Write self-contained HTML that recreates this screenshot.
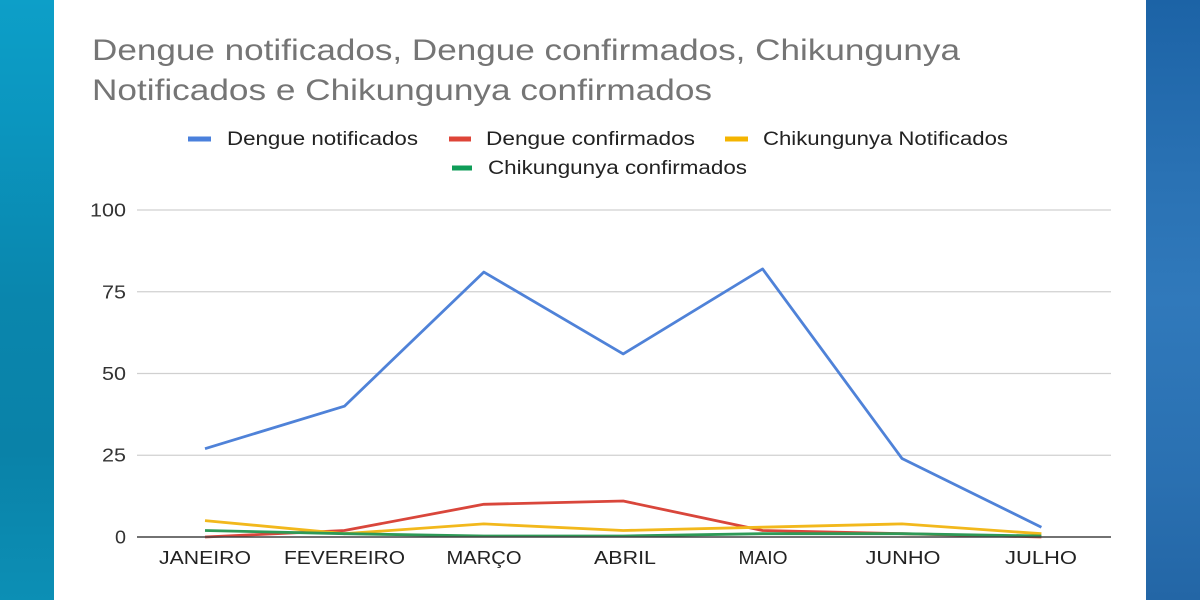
<!DOCTYPE html>
<html>
<head>
<meta charset="utf-8">
<style>
  html,body{margin:0;padding:0;width:1200px;height:600px;overflow:hidden;background:#fff;}
  svg{display:block;}
  text{font-family:"Liberation Sans", Arial, sans-serif;}
</style>
</head>
<body>
<svg width="1200" height="600" viewBox="0 0 1200 600" xmlns="http://www.w3.org/2000/svg">
  <defs>
    <linearGradient id="lg" x1="0" y1="0" x2="0" y2="1">
      <stop offset="0" stop-color="#0d9fc8"/>
      <stop offset="0.2" stop-color="#0b96bf"/>
      <stop offset="0.5" stop-color="#0a86ad"/>
      <stop offset="0.75" stop-color="#0a82a8"/>
      <stop offset="1" stop-color="#0c8fb5"/>
    </linearGradient>
    <linearGradient id="rg" x1="0" y1="0" x2="0" y2="1">
      <stop offset="0" stop-color="#1c63a6"/>
      <stop offset="0.3" stop-color="#2a72b4"/>
      <stop offset="0.5" stop-color="#3079bb"/>
      <stop offset="0.8" stop-color="#2a70b1"/>
      <stop offset="1" stop-color="#2366a6"/>
    </linearGradient>
  </defs>
  <rect x="0" y="0" width="1200" height="600" fill="#ffffff"/>
  <rect x="0" y="0" width="54" height="600" fill="url(#lg)"/>
  <rect x="1146" y="0" width="54" height="600" fill="url(#rg)"/>

  <!-- Title -->
  <text x="92" y="60" font-size="30" fill="#757575" textLength="868" lengthAdjust="spacingAndGlyphs">Dengue notificados, Dengue confirmados, Chikungunya</text>
  <text x="92" y="100" font-size="30" fill="#757575" textLength="620" lengthAdjust="spacingAndGlyphs">Notificados e Chikungunya confirmados</text>

  <!-- Legend -->
  <rect x="188" y="136.5" width="23" height="5" fill="#4a80dc"/>
  <text x="227" y="145" font-size="19" fill="#222" textLength="191" lengthAdjust="spacingAndGlyphs">Dengue notificados</text>
  <rect x="449" y="136.5" width="22" height="5" fill="#de4538"/>
  <text x="486" y="145" font-size="19" fill="#222" textLength="209" lengthAdjust="spacingAndGlyphs">Dengue confirmados</text>
  <rect x="725" y="136.5" width="23" height="5" fill="#f4b400"/>
  <text x="763" y="145" font-size="19" fill="#222" textLength="245" lengthAdjust="spacingAndGlyphs">Chikungunya Notificados</text>
  <rect x="452" y="165.5" width="20" height="5" fill="#0f9d58"/>
  <text x="488" y="174" font-size="19" fill="#222" textLength="259" lengthAdjust="spacingAndGlyphs">Chikungunya confirmados</text>

  <!-- Gridlines -->
  <g stroke="#d0d0d0" stroke-width="1.3">
    <line x1="137" y1="210" x2="1111" y2="210"/>
    <line x1="137" y1="291.75" x2="1111" y2="291.75"/>
    <line x1="137" y1="373.5" x2="1111" y2="373.5"/>
    <line x1="137" y1="455.25" x2="1111" y2="455.25"/>
  </g>

  <!-- Y labels -->
  <g font-size="18" fill="#333" text-anchor="end">
    <text x="126" y="216.5" textLength="36" lengthAdjust="spacingAndGlyphs">100</text>
    <text x="126" y="298.5" textLength="24" lengthAdjust="spacingAndGlyphs">75</text>
    <text x="126" y="380" textLength="24" lengthAdjust="spacingAndGlyphs">50</text>
    <text x="126" y="461.5" textLength="24" lengthAdjust="spacingAndGlyphs">25</text>
    <text x="126" y="543.5" textLength="11" lengthAdjust="spacingAndGlyphs">0</text>
  </g>

  <!-- Series -->
  <g fill="none" stroke-width="2.8" stroke-linejoin="round" stroke-linecap="butt">
    <polyline stroke="#4f82d8" points="205,448.7 344.4,406.2 483.8,272.1 623.2,353.9 762.6,268.9 902,458.5 1041.4,527.2"/>
    <polyline stroke="#d9463b" points="205,537 344.4,530.5 483.8,504.3 623.2,501 762.6,530.5 902,533.7 1041.4,537"/>
    <polyline stroke="#f2b81c" points="205,520.6 344.4,533.7 483.8,523.9 623.2,530.5 762.6,527.2 902,523.9 1041.4,533.7"/>
    <polyline stroke="#2e9a57" points="205,530.5 344.4,533.7 483.8,536 623.2,536 762.6,533.7 902,533.7 1041.4,536"/>
  </g>

  <!-- X axis baseline -->
  <line x1="137" y1="537" x2="1111" y2="537" stroke="#444" stroke-width="1.5"/>

  <!-- X labels -->
  <g font-size="18" fill="#222" text-anchor="middle">
    <text x="205" y="564" textLength="92" lengthAdjust="spacingAndGlyphs">JANEIRO</text>
    <text x="344.5" y="564" textLength="121" lengthAdjust="spacingAndGlyphs">FEVEREIRO</text>
    <text x="484" y="564" textLength="75" lengthAdjust="spacingAndGlyphs">MARÇO</text>
    <text x="625" y="564" textLength="62" lengthAdjust="spacingAndGlyphs">ABRIL</text>
    <text x="763" y="564" textLength="49" lengthAdjust="spacingAndGlyphs">MAIO</text>
    <text x="903" y="564" textLength="75" lengthAdjust="spacingAndGlyphs">JUNHO</text>
    <text x="1041" y="564" textLength="72" lengthAdjust="spacingAndGlyphs">JULHO</text>
  </g>
</svg>
</body>
</html>
